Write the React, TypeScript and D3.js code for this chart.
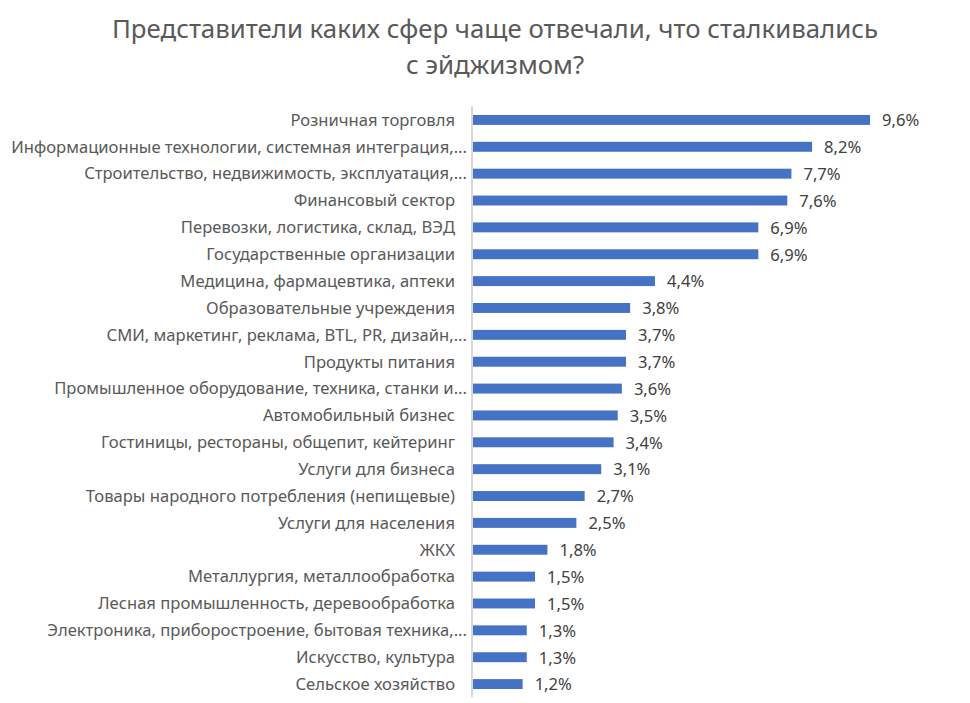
import React from "react";
import * as d3 from "d3";

const categories = [
  "Розничная торговля",
  "Информационные технологии, системная интеграция,...",
  "Строительство, недвижимость, эксплуатация,...",
  "Финансовый сектор",
  "Перевозки, логистика, склад, ВЭД",
  "Государственные организации",
  "Медицина, фармацевтика, аптеки",
  "Образовательные учреждения",
  "СМИ, маркетинг, реклама, BTL, PR, дизайн,...",
  "Продукты питания",
  "Промышленное оборудование, техника, станки и...",
  "Автомобильный бизнес",
  "Гостиницы, рестораны, общепит, кейтеринг",
  "Услуги для бизнеса",
  "Товары народного потребления (непищевые)",
  "Услуги для населения",
  "ЖКХ",
  "Металлургия, металлообработка",
  "Лесная промышленность, деревообработка",
  "Электроника, приборостроение, бытовая техника,...",
  "Искусство, культура",
  "Сельское хозяйство",
];

const values = [9.6, 8.2, 7.7, 7.6, 6.9, 6.9, 4.4, 3.8, 3.7, 3.7, 3.6, 3.5, 3.4, 3.1, 2.7, 2.5, 1.8, 1.5, 1.5, 1.3, 1.3, 1.2];

const titleLines = ["Представители каких сфер чаще отвечали, что сталкивались", "с эйджизмом?"];

const W = 970;
const H = 703;
const FONT = "'Noto Sans', 'Open Sans', sans-serif";

export default function App() {
  const axisX = 472;
  const x = d3.scaleLinear().domain([0, 9.6]).range([axisX + 1, 870]);
  const y = d3
    .scaleBand<string>()
    .domain(categories)
    .range([106.5, 697.5])
    .paddingInner(0.63)
    .paddingOuter(0.315);
  const fmt = (v: number) => d3.format(".1f")(v).replace(".", ",") + "%";

  return (
    <svg width={W} height={H} style={{ position: "absolute", left: 0, top: 0, fontFamily: FONT }}>
      <rect width={W} height={H} fill="#fff" />
      {titleLines.map((t, i) => (
        <text key={i} x={495} y={38 + i * 36} textAnchor="middle" fontSize={25.8} fill="#595959">
          {t}
        </text>
      ))}
      <g>
        {categories.map((c, i) => {
          const yc = (y(c) ?? 0) + y.bandwidth() / 2;
          const cut = c.endsWith("...");
          return (
            <g key={c}>
              <rect x={x(0)} y={y(c)} width={x(values[i]) - x(0)} height={y.bandwidth()} fill="#4472c4" />
              <text x={cut ? 467 : 455} y={yc} dy="0.35em" textAnchor="end" fontSize={16.6} fill="#595959">
                {c}
              </text>
              <text x={x(values[i]) + 12} y={yc} dy="0.38em" fontSize={16.6} fill="#404040">
                {fmt(values[i])}
              </text>
            </g>
          );
        })}
      </g>
      <line x1={axisX} x2={axisX} y1={106.5} y2={697.5} stroke="#d9d9d9" strokeWidth={2} />
    </svg>
  );
}
